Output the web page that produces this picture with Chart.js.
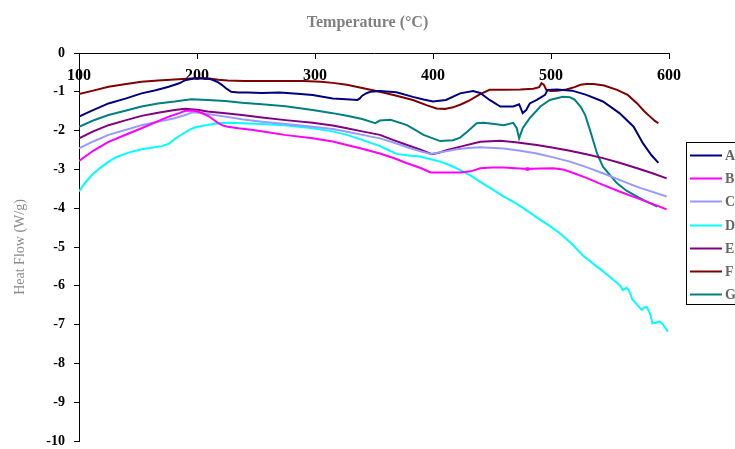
<!DOCTYPE html>
<html>
<head>
<meta charset="utf-8">
<script src="https://cdn.jsdelivr.net/npm/chart.js@4/dist/chart.umd.min.js"></script>
<style>
  html, body { margin: 0; padding: 0; background: #ffffff; }
  #c { display: block; }
</style>
</head>
<body>
<canvas id="c" width="735" height="449"></canvas>
<script>
// ---- Data ----
const seriesLabels = ['A', 'B', 'C', 'D', 'E', 'F', 'G'];
const seriesColors = ['#000080', '#FF00FF', '#9999FF', '#00FFFF', '#800080', '#800000', '#008080'];
const xTickValues = [100, 200, 300, 400, 500, 600];
const yTickValues = [0, -1, -2, -3, -4, -5, -6, -7, -8, -9, -10];

const tA = [100,110,125,140,153,165,176,185,190,198,205,212,217,221,225,229,235,243,255,270,285,298,315,330,336,338,340,344,347,355,369,383,392,400,411,423,434,440,448,457,468,473,476,479,482,488,495,497,505,518,530,544,558,570,578,585,591];
const vA = [-1.64,-1.50,-1.30,-1.17,-1.04,-0.96,-0.87,-0.78,-0.70,-0.65,-0.65,-0.68,-0.74,-0.82,-0.92,-1.00,-1.02,-1.02,-1.03,-1.02,-1.05,-1.08,-1.17,-1.20,-1.21,-1.17,-1.10,-1.03,-1.00,-0.98,-1.01,-1.13,-1.20,-1.25,-1.21,-1.04,-0.98,-1.03,-1.21,-1.38,-1.38,-1.32,-1.55,-1.47,-1.30,-1.21,-1.08,-0.95,-0.94,-0.97,-1.08,-1.25,-1.55,-1.90,-2.33,-2.63,-2.83];

const tB = [100,112,125,140,153,165,176,185,190,196,200,205,210,214,218,222,226,235,246,260,274,298,315,327,340,355,366,378,390,398,410,423,432,440,450,460,470,480,490,502,510,516,530,544,558,573,586,598];
const vB = [-2.78,-2.52,-2.29,-2.10,-1.94,-1.78,-1.64,-1.55,-1.49,-1.48,-1.50,-1.56,-1.63,-1.72,-1.81,-1.87,-1.90,-1.94,-1.98,-2.04,-2.11,-2.20,-2.28,-2.37,-2.47,-2.59,-2.70,-2.84,-2.97,-3.08,-3.08,-3.08,-3.05,-2.97,-2.95,-2.95,-2.97,-2.99,-2.98,-2.97,-3.00,-3.06,-3.22,-3.40,-3.57,-3.74,-3.89,-4.03];

const tC = [100,112,125,140,153,167,181,190,196,202,209,224,238,255,275,298,315,327,340,355,366,378,390,398,410,420,430,440,460,474,488,502,516,530,544,558,573,586,598];
const vC = [-2.46,-2.28,-2.11,-1.98,-1.86,-1.77,-1.68,-1.60,-1.53,-1.54,-1.57,-1.64,-1.71,-1.77,-1.83,-1.90,-1.96,-2.03,-2.11,-2.20,-2.30,-2.43,-2.54,-2.60,-2.54,-2.48,-2.45,-2.43,-2.46,-2.52,-2.59,-2.69,-2.80,-2.94,-3.10,-3.27,-3.45,-3.58,-3.70];

const tD = [100,105,111,118,125,132,139,146,153,160,170,176,181,187,193,198,204,211,218,228,238,255,274,298,315,327,340,355,362,369,379,389,398,406,415,423,432,440,451,460,470,479,490,500,508,518,527,537,545,553,558,561,564,566,569,573,577,579,581,584,586,589,592,595,599];
const vD = [-3.57,-3.35,-3.14,-2.96,-2.80,-2.68,-2.60,-2.53,-2.48,-2.45,-2.40,-2.34,-2.22,-2.10,-1.99,-1.92,-1.88,-1.84,-1.81,-1.80,-1.81,-1.83,-1.86,-1.94,-2.02,-2.11,-2.24,-2.40,-2.50,-2.60,-2.64,-2.67,-2.74,-2.80,-2.90,-3.02,-3.16,-3.32,-3.53,-3.70,-3.87,-4.05,-4.28,-4.48,-4.66,-4.93,-5.22,-5.46,-5.65,-5.85,-5.98,-6.11,-6.05,-6.12,-6.35,-6.49,-6.62,-6.56,-6.54,-6.72,-6.97,-6.95,-6.92,-7.00,-7.18];

const tE = [100,112,125,140,153,167,181,190,200,209,224,238,255,275,298,315,327,340,355,366,378,390,399,405,412,425,440,457,470,488,502,516,530,544,558,573,586,598];
const vE = [-2.20,-2.02,-1.86,-1.73,-1.62,-1.54,-1.47,-1.44,-1.46,-1.51,-1.55,-1.60,-1.66,-1.73,-1.80,-1.87,-1.94,-2.02,-2.11,-2.24,-2.37,-2.50,-2.61,-2.57,-2.50,-2.40,-2.29,-2.26,-2.30,-2.37,-2.44,-2.52,-2.61,-2.71,-2.83,-2.97,-3.10,-3.23];

const tF = [100,112,125,140,153,167,181,195,209,218,226,240,260,275,290,305,315,327,340,355,369,383,395,403,410,417,424,431,440,448,460,474,485,490,492,494,496,500,505,513,520,525,530,536,545,556,565,573,579,584,588,591];
const vF = [-1.06,-0.97,-0.87,-0.80,-0.74,-0.71,-0.68,-0.66,-0.65,-0.69,-0.71,-0.72,-0.72,-0.72,-0.72,-0.74,-0.77,-0.82,-0.90,-1.00,-1.10,-1.21,-1.35,-1.43,-1.44,-1.40,-1.32,-1.22,-1.06,-0.95,-0.95,-0.94,-0.92,-0.88,-0.78,-0.82,-0.95,-0.98,-0.97,-0.94,-0.88,-0.82,-0.80,-0.80,-0.84,-0.95,-1.08,-1.30,-1.50,-1.64,-1.75,-1.81];

const tG = [100,112,125,140,153,167,181,195,209,224,238,255,275,298,315,327,340,351,355,364,378,392,406,417,423,429,437,443,452,460,468,471,473,476,482,491,499,510,516,520,525,529,533,539,544,550,556,564,573,581,590];
const vG = [-1.90,-1.74,-1.60,-1.48,-1.38,-1.30,-1.25,-1.19,-1.21,-1.24,-1.28,-1.32,-1.37,-1.47,-1.55,-1.62,-1.70,-1.81,-1.74,-1.72,-1.86,-2.11,-2.27,-2.25,-2.18,-2.03,-1.81,-1.80,-1.83,-1.86,-1.80,-1.94,-2.20,-1.94,-1.68,-1.38,-1.21,-1.13,-1.14,-1.20,-1.38,-1.60,-1.98,-2.59,-2.93,-3.15,-3.36,-3.55,-3.70,-3.83,-3.96];

const markerTempB = 480; // single square marker visible on curve B

// ---- Build datasets ----
const temps = [tA, tB, tC, tD, tE, tF, tG];
const vals = [vA, vB, vC, vD, vE, vF, vG];
const toPoints = (t, v) => t.map((x, i) => ({ x: x, y: v[i] }));

const datasets = seriesLabels.map((lab, i) => ({
  label: lab,
  data: toPoints(temps[i], vals[i]),
  borderColor: seriesColors[i],
  backgroundColor: seriesColors[i],
  borderWidth: 2,
  tension: 0,
  pointStyle: 'rect',
  pointRadius: lab === 'B' ? (ctx) => (ctx.raw && ctx.raw.x === markerTempB ? 2.5 : 0) : 0,
  pointBorderWidth: 0,
  pointHoverRadius: 0
}));

const FONT = '"Liberation Serif", "Times New Roman", serif';

// Legend drawn in a bordered box at the right, from dataset labels/colours
const boxedLegend = {
  id: 'boxedLegend',
  afterDraw(chart) {
    const ctx = chart.ctx;
    ctx.save();
    ctx.strokeStyle = '#000000';
    ctx.lineWidth = 1;
    ctx.strokeRect(686.5, 142.5, 70, 162);
    ctx.font = 'bold 14px ' + FONT;
    ctx.textBaseline = 'middle';
    ctx.textAlign = 'left';
    chart.data.datasets.forEach((ds, i) => {
      const y = Math.round(155 + i * 23.2) + 0.5;
      ctx.strokeStyle = ds.borderColor;
      ctx.lineWidth = 2;
      ctx.beginPath();
      ctx.moveTo(690, y);
      ctx.lineTo(722, y);
      ctx.stroke();
      ctx.fillStyle = '#666666';
      ctx.fillText(ds.label, 725, y + 1);
    });
    ctx.restore();
  }
};

new Chart(document.getElementById('c'), {
  type: 'line',
  data: { datasets: datasets },
  plugins: [boxedLegend],
  options: {
    responsive: false,
    animation: false,
    events: [],
    layout: { padding: { left: 0, right: 0, top: 0, bottom: 8 } },
    plugins: {
      legend: { display: false },
      tooltip: { enabled: false },
      title: {
        display: true,
        text: 'Temperature (°C)',
        color: '#808080',
        font: { family: FONT, size: 16, weight: 'bold' },
        padding: { top: 13.4, bottom: 20.4 }
      }
    },
    scales: {
      x: {
        type: 'linear',
        position: { y: 0 },
        min: 100,
        max: 600,
        afterBuildTicks: (scale) => { scale.ticks = xTickValues.map(v => ({ value: v })); },
        ticks: {
          color: '#000000',
          font: { family: FONT, size: 16, weight: 'bold' },
          padding: 8,
          maxRotation: 0
        },
        grid: { drawOnChartArea: false, drawTicks: true, tickLength: 5, color: '#000000' },
        border: { display: true, color: '#000000', width: 1 }
      },
      y: {
        type: 'linear',
        position: 'left',
        min: -10,
        max: 0,
        afterBuildTicks: (scale) => { scale.ticks = yTickValues.map(v => ({ value: v })); },
        afterFit: (scale) => {
          scale.width = 79;
          scale.paddingBottom = 8;
          scale.paddingTop = 8;
        },
        ticks: {
          color: '#000000',
          font: { family: FONT, size: 14, weight: 'bold' },
          padding: 9
        },
        grid: { drawOnChartArea: false, drawTicks: true, tickLength: 5, color: '#000000' },
        border: { display: true, color: '#000000', width: 1 },
        title: {
          display: true,
          text: 'Heat Flow (W/g)',
          color: '#8c8c8c',
          font: { family: FONT, size: 14, weight: 'normal' },
          padding: { top: 12, bottom: 0 }
        }
      },
      legendSpace: {
        type: 'linear',
        position: 'right',
        min: 0,
        max: 1,
        afterFit: (scale) => { scale.width = 66; },
        ticks: { display: false },
        grid: { display: false },
        border: { display: false }
      }
    }
  }
});
</script>
</body>
</html>
